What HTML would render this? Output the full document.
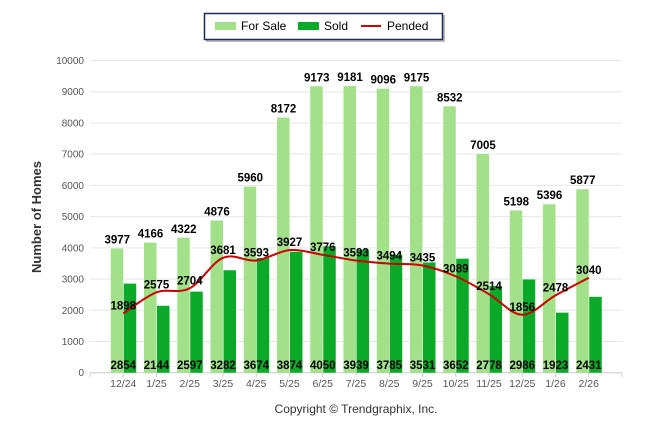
<!DOCTYPE html>
<html><head><meta charset="utf-8"><style>
body{margin:0;background:#fff;}
svg{display:block;font-family:"Liberation Sans",Arial,sans-serif;}
</style></head><body>
<svg id="s" width="646" height="434" xmlns="http://www.w3.org/2000/svg">
<rect x="206" y="15" width="239" height="27" fill="#bbb"/>
<rect x="204.5" y="13.5" width="238" height="26" fill="#fff" stroke="#1c2c5a" stroke-width="1.5"/>
<rect x="215" y="22" width="21" height="8" fill="#a2e08a"/>
<text x="241" y="30" font-size="12" fill="#000">For Sale</text>
<rect x="298" y="22" width="21" height="8" fill="#0aaa28"/>
<text x="324" y="30" font-size="12" fill="#000">Sold</text>
<rect x="361" y="25" width="20" height="2" fill="#cc0000"/>
<text x="387" y="30" font-size="12" fill="#000">Pended</text>
<text transform="translate(41,217) rotate(-90)" text-anchor="middle" font-size="13" font-weight="bold" fill="#333">Number of Homes</text>
<text x="356" y="413" text-anchor="middle" font-size="12" fill="#333">Copyright © Trendgraphix, Inc.</text>
<g id="g"></g>
</svg>
<script>
var fs=[3977,4166,4322,4876,5960,8172,9173,9181,9096,9175,8532,7005,5198,5396,5877];
var sd=[2854,2144,2597,3282,3674,3874,4050,3939,3785,3531,3652,2778,2986,1923,2431];
var pd=[1898,2575,2704,3681,3593,3927,3776,3593,3494,3435,3089,2514,1856,2478,3040];
var lb=["12/24","1/25","2/25","3/25","4/25","5/25","6/25","7/25","8/25","9/25","10/25","11/25","12/25","1/26","2/26"];
var Y=function(v){return 372.7-v*0.03122;};
var s='';
for(var k=0;k<=10;k++){var y=Y(k*1000);
s+='<line x1="90" x2="622" y1="'+y+'" y2="'+y+'" stroke="'+(k==0?'#ccc':'#e6e6e6')+'" stroke-width="1"/>';
s+='<text x="84" y="'+(y+3.5)+'" text-anchor="end" font-size="10" fill="#555">'+(k*1000)+'</text>';}
s+='<line x1="622" x2="622" y1="372.7" y2="377" stroke="#ccc"/><line x1="90" x2="90" y1="372.7" y2="377" stroke="#ccc"/>';
var C=function(i){return 123.25+33.25*i;};
for(var i=0;i<15;i++){var c=C(i);
s+='<rect x="'+(c-12.5)+'" y="'+Y(fs[i])+'" width="12.5" height="'+(372.7-Y(fs[i]))+'" fill="#a2e08a"/>';
s+='<rect x="'+(c+0.5)+'" y="'+Y(sd[i])+'" width="12.5" height="'+(372.7-Y(sd[i]))+'" fill="#0aaa28"/>';
s+='<line x1="'+c+'" x2="'+c+'" y1="372.7" y2="377" stroke="#ccc"/>';
s+='<text x="'+c+'" y="387" text-anchor="middle" font-size="10.5" fill="#555">'+lb[i]+'</text>';}
var p=[];for(var i=0;i<15;i++)p.push([C(i),Y(pd[i])]);
var d='M'+p[0][0]+','+p[0][1];
for(var i=0;i<14;i++){var p0=p[Math.max(i-1,0)],p1=p[i],p2=p[i+1],p3=p[Math.min(i+2,14)];
var t=6;d+=' C'+(p1[0]+(p2[0]-p0[0])/t)+','+(p1[1]+(p2[1]-p0[1])/t)+' '+(p2[0]-(p3[0]-p1[0])/t)+','+(p2[1]-(p3[1]-p1[1])/t)+' '+p2[0]+','+p2[1];}
s+='<path d="'+d+'" fill="none" stroke="#cc0000" stroke-width="2"/>';
for(var i=0;i<15;i++){var c=C(i);
s+='<text x="'+(c-6)+'" y="'+(Y(fs[i])-5)+'" text-anchor="middle" font-size="11.5" font-weight="bold" fill="#000">'+fs[i]+'</text>';
s+='<text x="'+c+'" y="'+(p[i][1]-4)+'" text-anchor="middle" font-size="11.5" font-weight="bold" fill="#000">'+pd[i]+'</text>';
s+='<text x="'+c+'" y="369" text-anchor="middle" font-size="11.5" font-weight="bold" fill="#000">'+sd[i]+'</text>';}
document.getElementById('g').innerHTML=s;
</script>
</body></html>
